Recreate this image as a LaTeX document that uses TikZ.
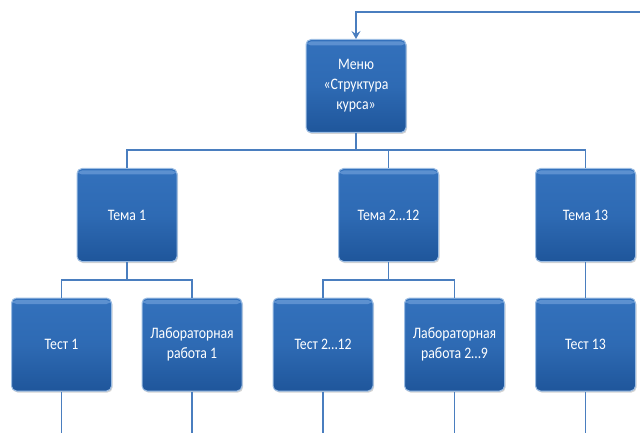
\documentclass[tikz,border=0pt]{standalone}
\usepackage{fontspec}
\setmainfont{Carlito}
\newfontfamily\boxfont[FakeStretch=0.86]{Carlito}
\usetikzlibrary{shadows,arrows.meta}
\definecolor{boxtop}{HTML}{3371BC}
\definecolor{boxbot}{HTML}{1F569B}
\definecolor{boxedge}{HTML}{9CBDE3}
\definecolor{gloss}{HTML}{6E9FD9}
\definecolor{conn}{HTML}{4A7EBF}
\tikzset{
  blk/.style={draw=boxedge, line width=1pt, rounded corners=5pt,
    top color=boxtop, bottom color=boxbot, middle color=boxtop!75!boxbot,
    minimum width=100pt, minimum height=93pt, inner sep=2pt,
    text=white, align=center, font=\boxfont\fontsize{16}{20}\selectfont,
    drop shadow={shadow xshift=1pt, shadow yshift=-1.5pt, opacity=0.35},
    path picture={\fill[gloss, opacity=0.7]
      ([yshift=-2pt]path picture bounding box.north west) rectangle
      ([yshift=-6pt]path picture bounding box.north east);}},
  link/.style={draw=conn, line width=1.8pt},
}
\begin{document}
\begin{tikzpicture}[x=1pt,y=-1pt]
\useasboundingbox (0,0) rectangle (640,433);
\coordinate (topright) at (640,12);
\coordinate (bus1) at (0,150);
\coordinate (bus2) at (0,280);
\coordinate (bottom) at (0,433);

\node[blk] (menu) at (356,86) {Меню\\«Структура\\курса»};
\node[blk] (t1) at (127,215) {Тема 1};
\node[blk] (t2) at (388.5,215) {Тема 2…12};
\node[blk] (t13) at (585.5,215) {Тема 13};
\node[blk] (test1) at (61.5,344.5) {Тест 1};
\node[blk] (lab1) at (192,344.5) {Лабораторная\\работа 1};
\node[blk] (test2) at (323,344.5) {Тест 2…12};
\node[blk] (lab2) at (454.5,344.5) {Лабораторная\\работа 2…9};
\node[blk] (test13) at (585.5,344.5) {Тест 13};

% feedback arrow
\draw[link, -{Stealth[length=8pt,width=9pt,inset=3pt]}] (topright) -| (menu.north);
% level 1 bus
\draw[link] (menu.south) -- (menu.south |- bus1);
\draw[link] (t1.north) |- (t13.north |- bus1) -- (t13.north);
\draw[link] (t2.north) -- (t2.north |- bus1);
% level 2 buses
\draw[link] (t1.south) -- (t1.south |- bus2);
\draw[link] (test1.north) |- (lab1.north |- bus2) -- (lab1.north);
\draw[link] (t2.south) -- (t2.south |- bus2);
\draw[link] (test2.north) |- (lab2.north |- bus2) -- (lab2.north);
\draw[link] (t13.south) -- (test13.north);
% lines downwards
\foreach \n in {test1,lab1,test2,lab2,test13}
  \draw[link] (\n.south) -- (\n.south |- bottom);
\end{tikzpicture}
\end{document}
